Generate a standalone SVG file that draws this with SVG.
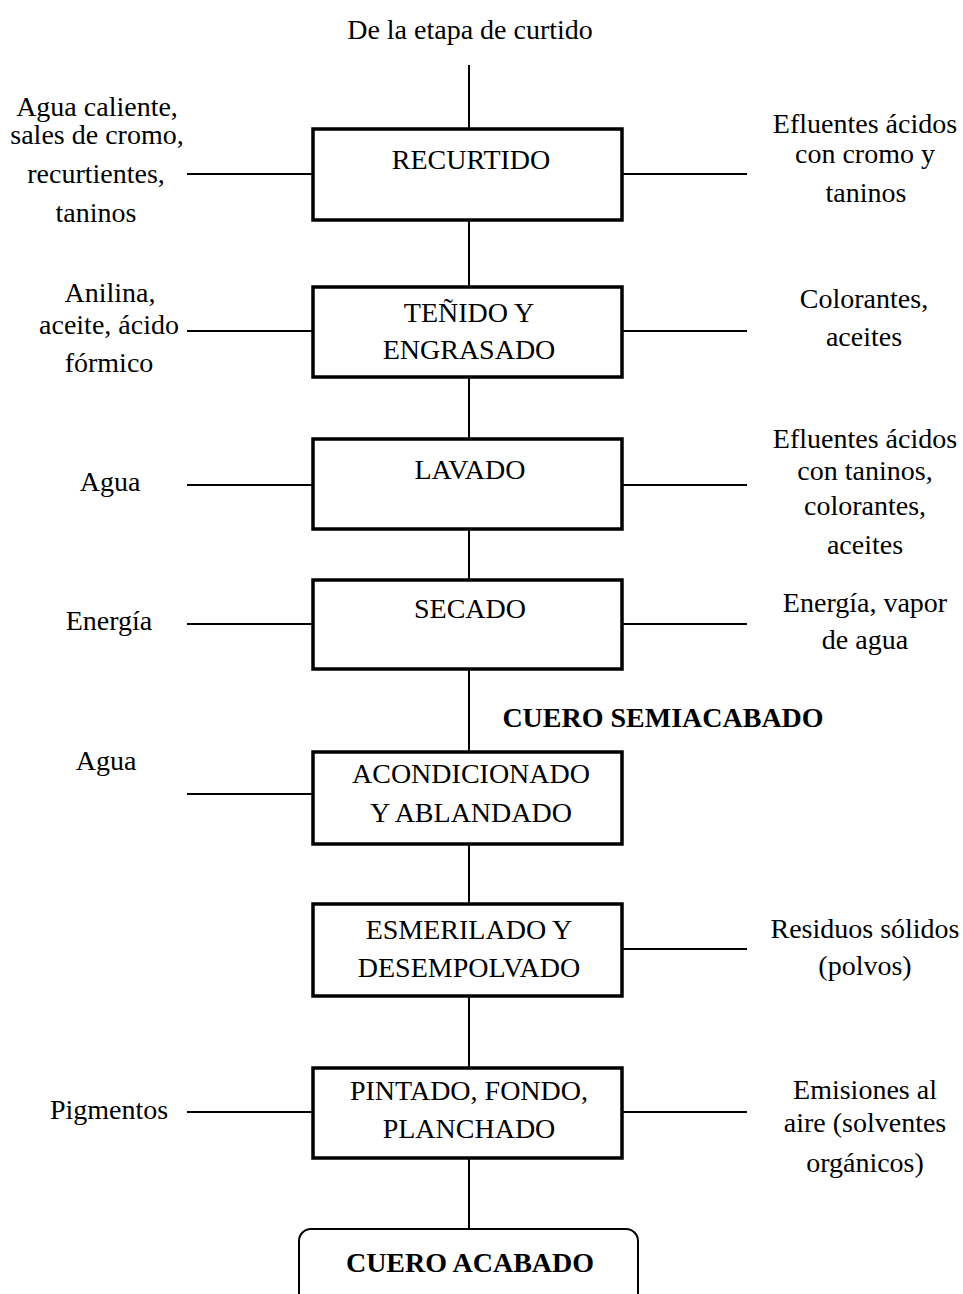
<svg xmlns="http://www.w3.org/2000/svg" width="963" height="1294" viewBox="0 0 963 1294">
  <style>
    text { font-family: "Liberation Serif", "Times New Roman", serif; font-size: 28px; fill: #000; text-anchor: middle; }
    .bold { font-weight: bold; }
    .step { fill: #fff; stroke: #000; stroke-width: 3.5; }
    .final { fill: #fff; stroke: #000; stroke-width: 2; }
    .link { stroke: #000; stroke-width: 2; fill: none; }
  </style>
  <rect width="963" height="1294" fill="#fff"/>

  <!-- flow connectors: main vertical line and side inputs/outputs -->
  <g id="connectors">
    <line class="link" x1="469" y1="65" x2="469" y2="1229"/>
    <!-- RECURTIDO -->
    <line class="link" x1="187" y1="174" x2="312" y2="174"/>
    <line class="link" x1="623" y1="174" x2="747" y2="174"/>
    <!-- TEÑIDO Y ENGRASADO -->
    <line class="link" x1="187" y1="331" x2="312" y2="331"/>
    <line class="link" x1="623" y1="331" x2="747" y2="331"/>
    <!-- LAVADO -->
    <line class="link" x1="187" y1="485" x2="312" y2="485"/>
    <line class="link" x1="623" y1="485" x2="747" y2="485"/>
    <!-- SECADO -->
    <line class="link" x1="187" y1="624" x2="312" y2="624"/>
    <line class="link" x1="623" y1="624" x2="747" y2="624"/>
    <!-- ACONDICIONADO -->
    <line class="link" x1="187" y1="794" x2="312" y2="794"/>
    <!-- ESMERILADO -->
    <line class="link" x1="623" y1="949" x2="747" y2="949"/>
    <!-- PINTADO -->
    <line class="link" x1="187" y1="1112" x2="312" y2="1112"/>
    <line class="link" x1="623" y1="1112" x2="747" y2="1112"/>
  </g>

  <g id="origen">
    <text x="470" y="39">De la etapa de curtido</text>
  </g>

  <g id="recurtido">
    <rect class="step" x="313" y="129" width="309" height="91"/>
    <text x="471" y="169">RECURTIDO</text>
  </g>
  <g id="recurtido-in">
    <text x="97" y="116">Agua caliente,</text>
    <text x="97" y="144">sales de cromo,</text>
    <text x="96" y="183">recurtientes,</text>
    <text x="96" y="222">taninos</text>
  </g>
  <g id="recurtido-out">
    <text x="865" y="133">Efluentes ácidos</text>
    <text x="865" y="163">con cromo y</text>
    <text x="866" y="202">taninos</text>
  </g>

  <g id="tenido">
    <rect class="step" x="313" y="287" width="309" height="90"/>
    <text x="469" y="322">TEÑIDO Y</text>
    <text x="469" y="359">ENGRASADO</text>
  </g>
  <g id="tenido-in">
    <text x="110" y="302">Anilina,</text>
    <text x="109" y="334">aceite, ácido</text>
    <text x="109" y="372">fórmico</text>
  </g>
  <g id="tenido-out">
    <text x="864" y="308">Colorantes,</text>
    <text x="864" y="346">aceites</text>
  </g>

  <g id="lavado">
    <rect class="step" x="313" y="439" width="309" height="90"/>
    <text x="470" y="479">LAVADO</text>
  </g>
  <g id="lavado-in">
    <text x="110" y="491">Agua</text>
  </g>
  <g id="lavado-out">
    <text x="865" y="448">Efluentes ácidos</text>
    <text x="865" y="480">con taninos,</text>
    <text x="865" y="515">colorantes,</text>
    <text x="865" y="554">aceites</text>
  </g>

  <g id="secado">
    <rect class="step" x="313" y="580" width="309" height="89"/>
    <text x="470" y="618">SECADO</text>
  </g>
  <g id="secado-in">
    <text x="109" y="630">Energía</text>
  </g>
  <g id="secado-out">
    <text x="865" y="612">Energía, vapor</text>
    <text x="865" y="649">de agua</text>
  </g>

  <g id="semiacabado">
    <text class="bold" x="663" y="727">CUERO SEMIACABADO</text>
  </g>

  <g id="acondicionado">
    <rect class="step" x="313" y="752" width="309" height="92"/>
    <text x="471" y="783">ACONDICIONADO</text>
    <text x="471" y="822">Y ABLANDADO</text>
  </g>
  <g id="acondicionado-in">
    <text x="106" y="770">Agua</text>
  </g>

  <g id="esmerilado">
    <rect class="step" x="313" y="904" width="309" height="92"/>
    <text x="469" y="939">ESMERILADO Y</text>
    <text x="469" y="977">DESEMPOLVADO</text>
  </g>
  <g id="esmerilado-out">
    <text x="865" y="938">Residuos sólidos</text>
    <text x="865" y="975">(polvos)</text>
  </g>

  <g id="pintado">
    <rect class="step" x="313" y="1068" width="309" height="90"/>
    <text x="469" y="1100">PINTADO, FONDO,</text>
    <text x="469" y="1138">PLANCHADO</text>
  </g>
  <g id="pintado-in">
    <text x="109" y="1119">Pigmentos</text>
  </g>
  <g id="pintado-out">
    <text x="865" y="1099">Emisiones al</text>
    <text x="865" y="1132">aire (solventes</text>
    <text x="865" y="1172">orgánicos)</text>
  </g>

  <g id="acabado">
    <rect class="final" x="299" y="1229" width="339" height="90" rx="12" ry="12"/>
    <text class="bold" x="470" y="1272">CUERO ACABADO</text>
  </g>
</svg>
